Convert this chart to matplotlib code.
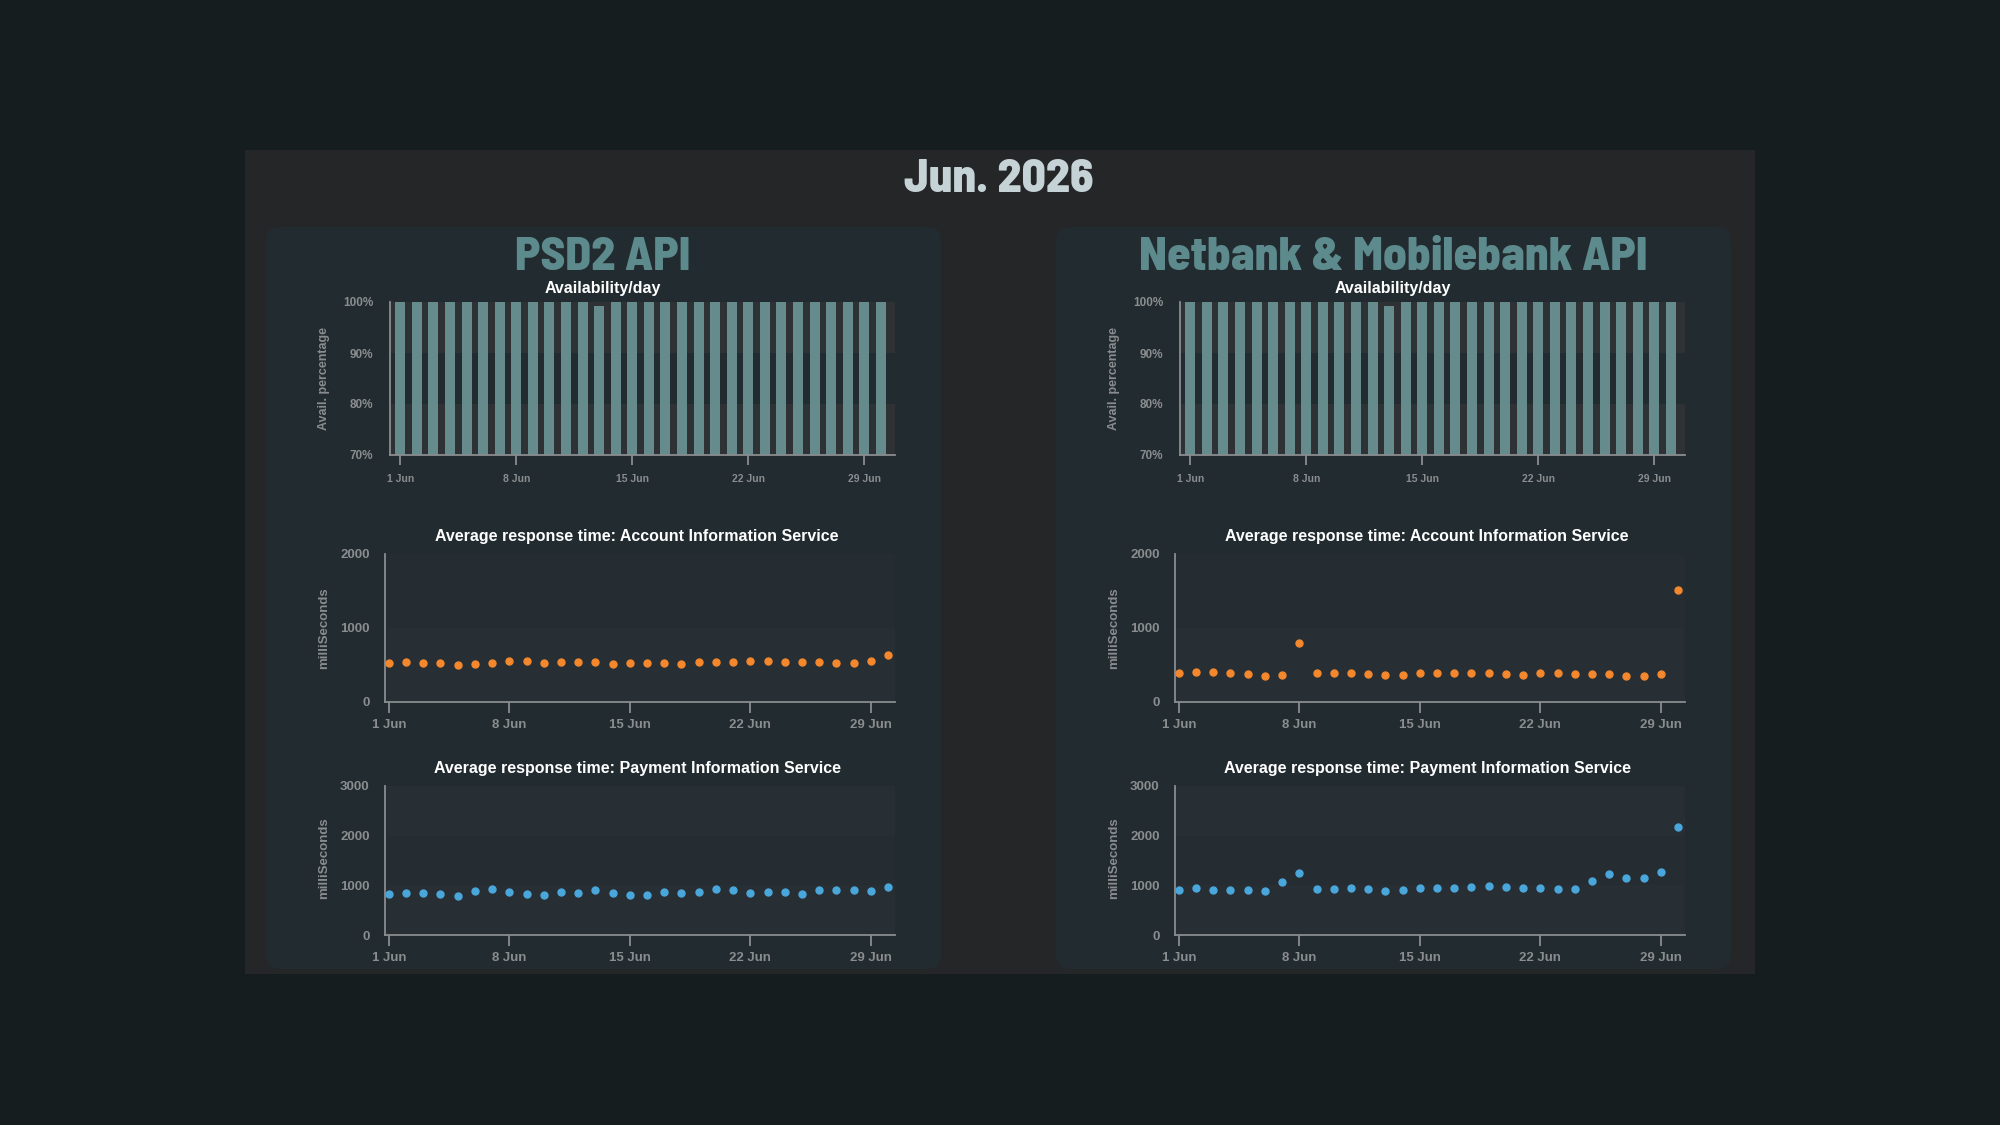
import matplotlib
matplotlib.use('Agg')
import matplotlib.pyplot as plt
from matplotlib.patches import FancyBboxPatch, Rectangle

# --- data -----------------------------------------------------------------
DAYS = [1, 2, 3, 4, 5, 6, 7, 8, 9, 10, 11, 12, 13, 14, 15,
        16, 17, 18, 19, 20, 21, 22, 23, 24, 25, 26, 27, 28, 29, 30]
TICK_DAYS = [1, 8, 15, 22, 29]
TICK_LABELS = ['1 Jun', '8 Jun', '15 Jun', '22 Jun', '29 Jun']

PSD2_AVAIL = [100, 100, 100, 100, 100, 100, 100, 100, 100, 100, 100, 100, 99.3, 100, 100,
              100, 100, 100, 100, 100, 100, 100, 100, 100, 100, 100, 100, 100, 100, 100]
PSD2_AIS = [532, 546, 532, 528, 501, 515, 523, 555, 555, 532, 540, 535, 534, 520, 529,
            529, 529, 516, 534, 534, 534, 556, 552, 547, 547, 538, 525, 529, 552, 637]
PSD2_PIS = [834, 848, 848, 834, 794, 895, 922, 861, 821, 807, 861, 854, 908, 848, 814,
            814, 861, 841, 874, 928, 908, 854, 874, 874, 834, 915, 915, 915, 888, 968]

NET_AVAIL = [100, 100, 100, 100, 100, 100, 100, 100, 100, 100, 100, 100, 99.2, 100, 100,
             100, 100, 100, 100, 100, 100, 100, 100, 100, 100, 100, 100, 100, 100, 100]
NET_AIS = [398, 407, 403, 389, 376, 357, 367, 801, 398, 389, 394, 385, 367, 362, 398,
           398, 389, 394, 398, 385, 367, 394, 389, 376, 376, 376, 353, 353, 385, 1507]
NET_PIS = [915, 955, 915, 915, 915, 881, 1063, 1244, 935, 921, 942, 928, 888, 908, 955,
           955, 955, 962, 996, 962, 955, 942, 928, 921, 1096, 1231, 1157, 1150, 1265, 2173]

# --- style ----------------------------------------------------------------
OUTER_BG = '#161d1f'
PANEL_BG = '#252628'
CARD_BG = '#222b30'
BAND = '#2e3235'
PLOT_BG = '#252d32'
BAR_COLOR = '#668b8c'
ORANGE = '#f5882d'
BLUE = '#4aa7dc'
GREY = '#8a8d8f'
TITLE_TEAL = '#5d8a8c'
HEAD = '#c5d3d6'

BIG_FONT = ['Barlow Semi Condensed', 'Roboto Condensed', 'DejaVu Sans']
plt.rcParams['font.family'] = ['Liberation Sans', 'DejaVu Sans']
plt.rcParams['font.weight'] = 'bold'

W, H = 2000, 1125
fig = plt.figure(figsize=(20, 11.25), dpi=100, facecolor=OUTER_BG)

bg = fig.add_axes([0, 0, 1, 1], zorder=-5)
bg.set_xlim(0, W)
bg.set_ylim(H, 0)
bg.axis('off')
bg.add_patch(Rectangle((245, 150), 1510, 824, color=PANEL_BG, lw=0))
for x0 in (266, 1056):
    bg.add_patch(FancyBboxPatch((x0, 227), 675, 742, boxstyle='round,pad=0,rounding_size=14',
                                color=CARD_BG, lw=0))

bg.text(999, 180, 'Jun. 2026', color=HEAD, fontsize=34, fontweight='heavy',
        family=BIG_FONT, ha='center', va='center')


def ax_rect(x0, y0, x1, y1):
    return [x0 / W, 1 - y1 / H, (x1 - x0) / W, (y1 - y0) / H]


def style_axes(ax, xlim, ylim, tick_len, lab_size, pad_x, pad_y):
    ax.set_xlim(*xlim)
    ax.set_ylim(*ylim)
    for s in ('top', 'right'):
        ax.spines[s].set_visible(False)
    for s in ('left', 'bottom'):
        ax.spines[s].set_color(GREY)
        ax.spines[s].set_linewidth(1.3)
    ax.set_xticks(TICK_DAYS)
    ax.set_xticklabels(TICK_LABELS)
    ax.tick_params(axis='x', colors=GREY, length=tick_len, width=1.3, labelsize=lab_size, pad=pad_x)
    ax.tick_params(axis='y', colors=GREY, length=0, labelsize=9.5, pad=pad_y)


def draw_card(cx, title, avail, ais, pis):
    dx = cx - 603
    bg.text(cx, 258, title, color=TITLE_TEAL, fontsize=34, fontweight='heavy',
            family=BIG_FONT, ha='center', va='center')
    bg.text(cx, 289, 'Availability/day', color='white', fontsize=11.5, ha='center', va='center')

    # availability bars
    ax = fig.add_axes(ax_rect(390 + dx, 302, 895 + dx, 455))
    ax.set_facecolor(CARD_BG)
    ax.axhspan(70, 80, color=BAND, lw=0, zorder=0)
    ax.axhspan(90, 100, color=BAND, lw=0, zorder=0)
    ax.bar(DAYS, avail, width=0.6, color=BAR_COLOR, zorder=2)
    style_axes(ax, (0.38, 30.85), (70, 100), 7, 7.5, 6.5, 12)
    ax.set_yticks([70, 80, 90, 100])
    ax.set_yticklabels(['70%', '80%', '90%', '100%'], fontsize=8.5)
    bg.text(324 + dx, 379, 'Avail. percentage', color=GREY, fontsize=9, rotation=90,
            ha='center', va='center')

    # response time charts
    specs = [
        (554, 702, 537, 628, ais, ORANGE, [0, 1000, 2000], 'Account Information Service'),
        (786, 935, 769, 858, pis, BLUE, [0, 1000, 2000, 3000], 'Payment Information Service'),
    ]
    for y0, y1, ty, ly, vals, col, yt, name in specs:
        ax = fig.add_axes(ax_rect(385 + dx, y0, 895 + dx, y1))
        ax.set_facecolor(PLOT_BG)
        for lo in yt[:-1:2]:
            ax.axhspan(lo, lo + 1000, color='#282f34', lw=0, zorder=0)
        ax.plot(DAYS, vals, 'o', color=col, markersize=5, zorder=3, clip_on=False)
        style_axes(ax, (0.78, 30.4), (yt[0], yt[-1]), 8, 9.5, 4.5, 11)
        ax.set_yticks(yt)
        ax.set_yticklabels([str(v) for v in yt])
        bg.text(637 + dx, ty, 'Average response time: ' + name, color='white', fontsize=11.5,
                ha='center', va='center')
        bg.text(324 + dx, ly, 'milliSeconds', color=GREY, fontsize=9.5, rotation=90,
                ha='center', va='center')


draw_card(603, 'PSD2 API', PSD2_AVAIL, PSD2_AIS, PSD2_PIS)
draw_card(1393, 'Netbank & Mobilebank API', NET_AVAIL, NET_AIS, NET_PIS)

fig.savefig('out.png', dpi=100, facecolor=OUTER_BG)
